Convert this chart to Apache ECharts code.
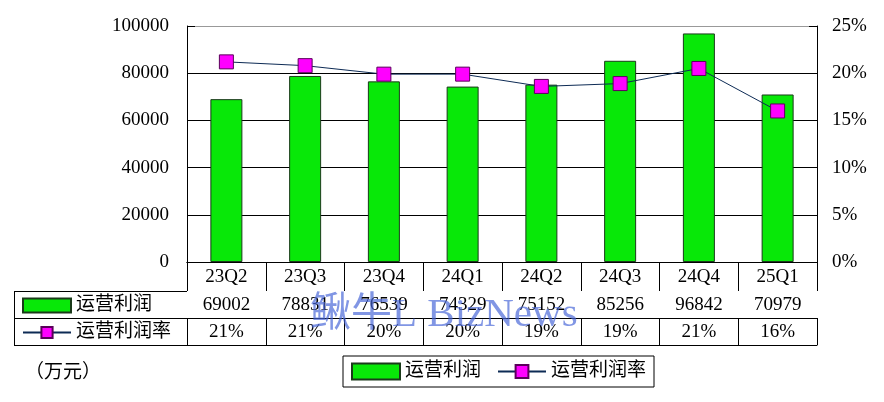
<!DOCTYPE html>
<html>
<head>
<meta charset="utf-8">
<script src="https://cdn.jsdelivr.net/npm/echarts@6/dist/echarts.min.js"></script>
<style>html,body{margin:0;padding:0;background:#fff;}#c{width:884px;height:402px;}</style>
</head>
<body>
<div id="c"></div>
<script>
const categories = ['23Q2', '23Q3', '23Q4', '24Q1', '24Q2', '24Q3', '24Q4', '25Q1'];
const profit = [69002, 78831, 76539, 74329, 75152, 85256, 96842, 70979];
const profitRate = [21.2, 20.8, 19.9, 19.9, 18.6, 18.9, 20.5, 16.0];
const leftTicks = { min: 0, max: 100000, interval: 20000 };
const rightTicks = { min: 0, max: 25, interval: 5 };
const seriesNames = ['运营利润', '运营利润率'];
const unitLabel = '（万元）';
const watermark = '鳅牛L BizNews';

const FONT = "'Liberation Serif', 'Noto Sans CJK SC', serif";
const chart = echarts.init(document.getElementById('c'), null, { renderer: 'canvas' });

function tableAxis(offset, tickLen, labelFn, margin) {
  return {
    type: 'category', data: categories, position: 'bottom', offset: offset,
    boundaryGap: true,
    axisLine: { show: true, lineStyle: { color: '#000', width: 1 } },
    axisTick: { show: tickLen > 0, interval: 0, length: tickLen, inside: false, lineStyle: { color: '#000', width: 1 } },
    axisLabel: { show: !!labelFn, interval: 0, margin: margin, color: '#000', fontSize: 19, fontFamily: FONT,
      formatter: labelFn ? (v, i) => labelFn(i) : undefined },
    splitLine: { show: false }
  };
}

const legendData = [{ name: seriesNames[0], icon: 'rect' }, { name: seriesNames[1] }];

const option = {
  animation: false,
  backgroundColor: '#fff',
  title: { text: unitLabel, left: 20, top: 359, textStyle: { fontSize: 19, fontWeight: 'normal', color: '#000', fontFamily: FONT } },
  grid: { left: 187, right: 67, top: 26, bottom: 140, containLabel: false },
  legend: [
    { data: legendData, orient: 'horizontal', left: 343, top: 356, selectedMode: false,
      borderColor: '#000', borderWidth: 1, padding: [6, 8, 6, 8], itemWidth: 48, itemHeight: 16, itemGap: 16,
      textStyle: { fontSize: 19, color: '#000', fontFamily: FONT } },
    { data: legendData, orient: 'vertical', left: 22, top: 296, selectedMode: false, padding: 0,
      itemWidth: 48, itemHeight: 14, itemGap: 8,
      textStyle: { fontSize: 19, color: '#000', fontFamily: FONT } }
  ],
  xAxis: [
    tableAxis(0, 29, i => categories[i], 6),
    tableAxis(29, 27, i => String(profit[i]), 5),
    tableAxis(56, 27, i => Math.round(profitRate[i]) + '%', 5),
    tableAxis(83, 0, null, 0)
  ],
  yAxis: [
    { type: 'value', min: leftTicks.min, max: leftTicks.max, interval: leftTicks.interval, position: 'left',
      axisLine: { show: true, lineStyle: { color: '#000', width: 1 } },
      axisTick: { show: true, inside: true, length: 8, lineStyle: { color: '#000' } },
      axisLabel: { margin: 18, color: '#000', fontSize: 19, fontFamily: FONT, formatter: v => String(v) },
      splitLine: { show: true, lineStyle: { color: ['#000', '#000', '#000', '#000', '#000', '#999'], width: 1 } } },
    { type: 'value', min: rightTicks.min, max: rightTicks.max, interval: rightTicks.interval, position: 'right',
      axisLine: { show: true, lineStyle: { color: '#000', width: 1 } },
      axisTick: { show: true, inside: true, length: 8, lineStyle: { color: '#000' } },
      axisLabel: { margin: 15, color: '#000', fontSize: 19, fontFamily: FONT, formatter: '{value}%' },
      splitLine: { show: false } }
  ],
  series: [
    { name: seriesNames[0], type: 'bar', data: profit, xAxisIndex: 0, yAxisIndex: 0, barWidth: 32,
      itemStyle: { color: '#08e808', borderColor: '#1a3a1a', borderWidth: 1 } },
    { name: seriesNames[1], type: 'line', data: profitRate, xAxisIndex: 0, yAxisIndex: 1,
      symbol: 'rect', symbolSize: 14,
      itemStyle: { color: '#ff00ff', borderColor: '#5a005a', borderWidth: 1 },
      lineStyle: { color: '#0d2b55', width: 1 } }
  ],
  graphic: [
    { type: 'line', shape: { x1: 14, y1: 291.5, x2: 187, y2: 291.5 }, style: { stroke: '#000', lineWidth: 1 } },
    { type: 'line', shape: { x1: 14, y1: 318.5, x2: 187, y2: 318.5 }, style: { stroke: '#000', lineWidth: 1 } },
    { type: 'line', shape: { x1: 14, y1: 345.5, x2: 187, y2: 345.5 }, style: { stroke: '#000', lineWidth: 1 } },
    { type: 'line', shape: { x1: 14.5, y1: 291, x2: 14.5, y2: 346 }, style: { stroke: '#000', lineWidth: 1 } },
    { type: 'text', left: 310, top: 295, z: 100, silent: true,
      style: { text: watermark, fontSize: 41, fontFamily: FONT, fill: 'rgba(70,100,215,0.68)' } }
  ]
};
chart.setOption(option);
</script>
</body>
</html>
